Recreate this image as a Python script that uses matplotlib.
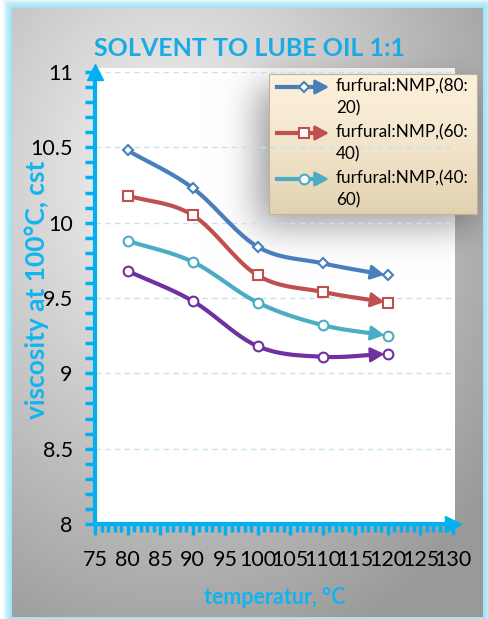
import numpy as np
import matplotlib
matplotlib.use("Agg")
import matplotlib.pyplot as plt
from matplotlib.lines import Line2D
from matplotlib.patches import Rectangle, FancyArrowPatch
from matplotlib.ticker import MultipleLocator

plt.rcParams['font.family'] = ['Lato', 'DejaVu Sans']

# data
temperature = [80, 90, 100, 110, 120]
visc_80_20 = [10.48, 10.23, 9.84, 9.73, 9.65]
visc_60_40 = [10.18, 10.05, 9.65, 9.54, 9.47]
visc_40_60 = [9.88, 9.74, 9.47, 9.32, 9.25]
visc_other = [9.68, 9.48, 9.18, 9.11, 9.13]
labels = ["furfural:NMP,(80:\n20)", "furfural:NMP,(60:\n40)", "furfural:NMP,(40:\n60)"]

series = [
    (visc_80_20, "#4A7EBB", "D", 5),
    (visc_60_40, "#C0504D", "s", 7),
    (visc_40_60, "#4BACC6", "o", 7),
    (visc_other, "#7030A0", "o", 7),
]
AXIS_C = "#00B0F0"

W, H = 489, 619


def catmull_rom(x, y, n=30):
    pts = np.column_stack([x, y]).astype(float)
    P = np.vstack([2 * pts[0] - pts[1], pts, 2 * pts[-1] - pts[-2]])
    t = np.linspace(0, 1, n)[:, None]
    out = []
    for i in range(len(pts) - 1):
        p0, p1, p2, p3 = P[i:i + 4]
        seg = 0.5 * ((2 * p1) + (-p0 + p2) * t + (2 * p0 - 5 * p1 + 4 * p2 - p3) * t ** 2
                     + (-p0 + 3 * p1 - 3 * p2 + p3) * t ** 3)
        out.append(seg if i == 0 else seg[1:])
    c = np.vstack(out)
    return c[:, 0], c[:, 1]


def blur(a, s):
    k = np.exp(-0.5 * (np.arange(-3 * s, 3 * s + 1) / s) ** 2)
    k /= k.sum()
    a = np.apply_along_axis(lambda r: np.convolve(r, k, mode="same"), 0, a)
    return np.apply_along_axis(lambda r: np.convolve(r, k, mode="same"), 1, a)


# background picture (pixel space)
yy, xx = np.mgrid[0:H, 0:W]
r = np.hypot((xx - 170) / W, (yy - 180) / H)
gray = np.clip(0.97 - 0.45 * r, 0.6, 1.0)
img = np.dstack([gray, gray, gray])

# plot area
plot_box = (95, 68, 455, 526)
img[plot_box[1]:plot_box[3], plot_box[0]:plot_box[2]] = 1.0

# legend shadow
leg = (269, 74, 477, 214)
mask = np.zeros((H, W))
mask[leg[1] + 12:leg[3] + 12, leg[0] - 12:leg[2] - 4] = 1.0
sh = blur(mask, 18)
img *= (1 - 0.38 * sh)[..., None]

# legend fill
ly = np.linspace(0, 1, leg[3] - leg[1])[:, None]
top = np.array([0.99, 0.94, 0.86])
bot = np.array([0.88, 0.82, 0.69])
fill = top + (bot - top) * ly[..., None] ** 1.5
img[leg[1]:leg[3], leg[0]:leg[2]] = np.repeat(fill, leg[2] - leg[0], axis=1)

# outer glow frame
edge = np.minimum.reduce([xx - 12, (W - 7) - xx, yy - 8, (H - 3) - yy]).astype(float)
glow = np.array([0.62, 0.89, 0.97])
out_mask = edge < 0
g = np.clip(-edge / 10, 0, 1)[..., None]
framecol = glow + (1 - glow) * g ** 1.5
img = np.where(out_mask[..., None], framecol, img)

fig = plt.figure(figsize=(W / 100, H / 100), dpi=100)
bg = fig.add_axes([0, 0, 1, 1], zorder=-10)
bg.imshow(img, extent=(0, 1, 0, 1), aspect="auto", interpolation="bilinear")
bg.axis("off")
fig.patches.append(Rectangle((leg[0] / W, 1 - leg[3] / H), (leg[2] - leg[0]) / W, (leg[3] - leg[1]) / H,
                             transform=fig.transFigure, fill=False, ec="#BFB49A", lw=0.8))

ax = fig.add_axes([95 / W, 1 - 524 / H, (453 - 95) / W, (524 - 72) / H])
ax.set_facecolor("none")
ax.set_xlim(75, 130)
ax.set_ylim(8, 11)

for y in np.arange(8.5, 11.01, 0.5):
    ax.axhline(y, color="#C5E3EE", lw=1, ls=(0, (4, 3)), zorder=1)

head = "-|>,head_length=0.75,head_width=0.4"
for vals, col, mk, ms in series:
    sx, sy = catmull_rom(temperature, vals)
    ax.plot(sx[:-5], sy[:-5], color=col, lw=3, solid_capstyle="butt", zorder=3)
    ax.annotate("", xy=(sx[-1], sy[-1]), xytext=(sx[-6], sy[-6]),
                arrowprops=dict(arrowstyle=head, color=col, lw=2,
                                shrinkA=0, shrinkB=2.5, mutation_scale=11), zorder=3)
    ax.plot(temperature, vals, ls="none", marker=mk, ms=ms, mfc="white", mec=col, mew=1.5, zorder=4)

for side in ("top", "right"):
    ax.spines[side].set_visible(False)
for side in ("left", "bottom"):
    ax.spines[side].set_color(AXIS_C)
    ax.spines[side].set_linewidth(3)

ax.xaxis.set_major_locator(MultipleLocator(5))
ax.xaxis.set_minor_locator(MultipleLocator(1))
ax.yaxis.set_major_locator(MultipleLocator(0.5))
ax.yaxis.set_minor_locator(MultipleLocator(0.1))
ax.tick_params(axis="both", which="both", color=AXIS_C, labelsize=15.5, labelcolor="black")
ax.tick_params(axis="y", which="both", direction="out", length=7, width=2.5, pad=9)
ax.tick_params(axis="x", which="major", direction="out", length=8, width=2.5, pad=11)
ax.tick_params(axis="x", which="minor", direction="out", length=6, width=2.5)
ax.set_yticks(np.arange(8, 11.01, 0.5))
ax.set_yticklabels(["8", "8.5", "9", "9.5", "10", "10.5", "11"])

# arrow heads on the axes
ax.plot([0], [1], marker="^", ms=11, color=AXIS_C, transform=ax.transAxes, clip_on=False, zorder=5)
ax.plot([1], [0], marker=">", ms=11, color=AXIS_C, transform=ax.transAxes, clip_on=False, zorder=5)

fig.text(250 / W, 1 - 48 / H, "SOLVENT TO LUBE OIL 1:1", ha="center", va="center",
         fontsize=18, fontweight="bold", color="#1AAAE6")
fig.text(37 / W, 1 - 290 / H, "viscosity at 100°C, cst", ha="center", va="center", rotation=90,
         fontsize=19, fontweight="bold", color="#12B4F0", zorder=0)
fig.text(275 / W, 1 - 597 / H, "temperatur, °C", ha="center", va="center",
         fontsize=15.5, fontweight="bold", color="#12B4F0")

# legend entries
for i, (lab, (vals, col, mk, ms)) in enumerate(zip(labels, series[:3])):
    yc = 1 - (87 + 46 * i) / H
    fig.lines.append(Line2D([277 / W, 318 / W], [yc, yc], color=col, lw=3, transform=fig.transFigure))
    fig.patches.append(FancyArrowPatch((312 / W, yc), (329 / W, yc), transform=fig.transFigure,
                                       arrowstyle=head, mutation_scale=11, color=col, lw=2,
                                       shrinkA=0, shrinkB=0))
    fig.lines.append(Line2D([304 / W], [yc], marker=mk, ms=ms, mfc="white", mec=col, mew=1.5,
                            transform=fig.transFigure))
    fig.text(336 / W, yc + 9 / H, lab, ha="left", va="top", fontsize=12.3, linespacing=1.45)

fig.savefig("out.png", dpi=100)
